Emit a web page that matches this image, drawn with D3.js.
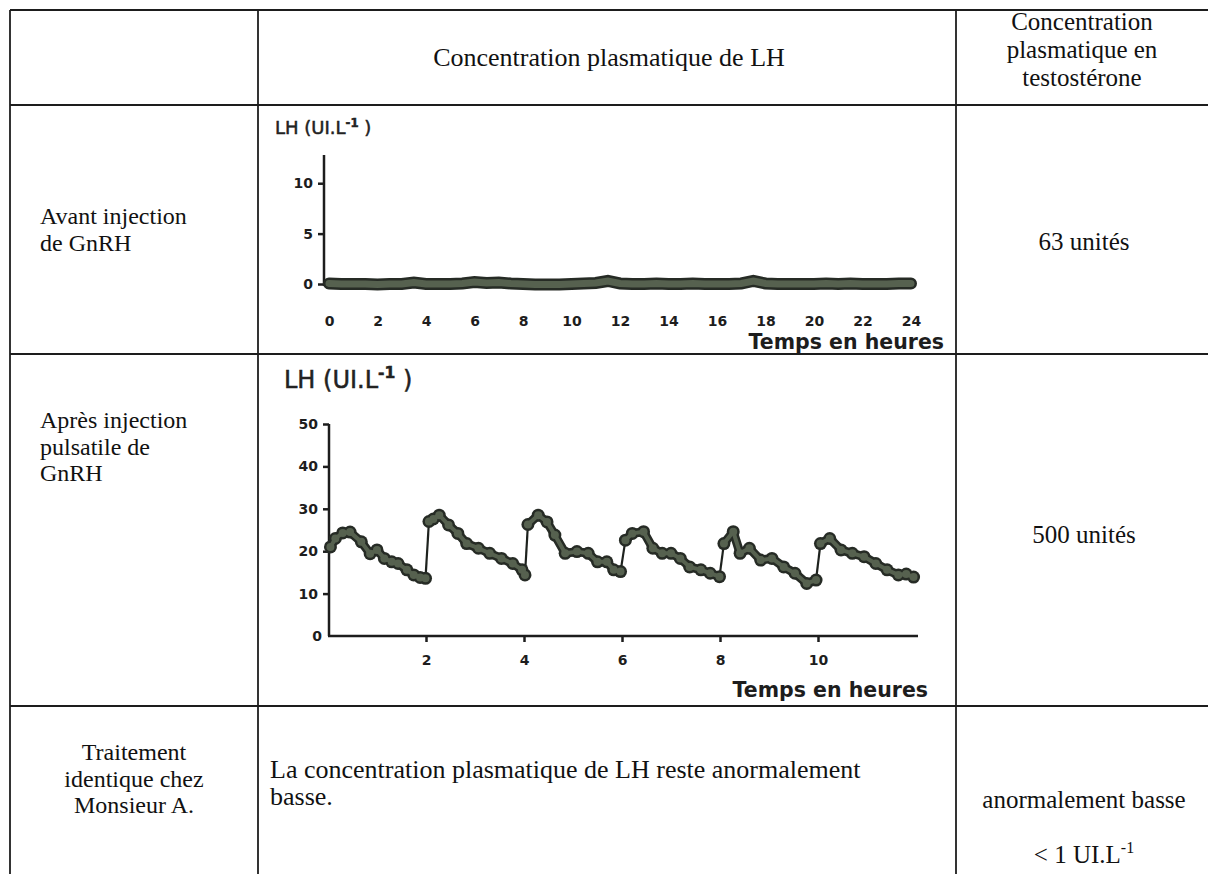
<!DOCTYPE html>
<html>
<head>
<meta charset="utf-8">
<script src="https://cdn.jsdelivr.net/npm/d3@7"></script>
<style>
  body { margin: 0; background: #fff; }
  svg { display: block; }
</style>
</head>
<body>
<div id="chart"></div>
<script>
// ---- data ----

// chart 1 : before injection (LH, UI/L, every half hour over 24 h)
const beforeHours = [0, 0.5, 1, 1.5, 2, 2.5, 3, 3.5, 4, 4.5, 5, 5.5, 6, 6.5, 7, 7.5, 8, 8.5, 9, 9.5, 10, 10.5, 11, 11.5,
  12, 12.5, 13, 13.5, 14, 14.5, 15, 15.5, 16, 16.5, 17, 17.5, 18, 18.5, 19, 19.5, 20, 20.5, 21, 21.5, 22, 22.5, 23, 23.5, 24];
const beforeLH = [0.05, 0, 0, 0, -0.05, 0, 0, 0.15, 0, 0, 0, 0.05, 0.2, 0.1, 0.15, 0.05, 0, -0.05, -0.05, -0.05, 0, 0.05, 0.1, 0.3,
  0.05, 0, 0, 0.05, 0, 0, 0.05, 0, 0, 0, 0.05, 0.3, 0.05, 0, 0, 0, 0, 0.05, 0, 0.05, 0, 0, 0, 0.05, 0.05];
const beforeTicksX = [0, 2, 4, 6, 8, 10, 12, 14, 16, 18, 20, 22, 24];
const beforeTicksY = [0, 5, 10];

// chart 2 : after pulsatile GnRH (LH, UI/L, over 12 h)
const afterHours = [0.05, 0.15, 0.3, 0.45, 0.68, 0.86, 1.0, 1.15, 1.3, 1.43, 1.61, 1.75, 1.88, 1.99,
  2.06, 2.15, 2.27, 2.46, 2.65, 2.83, 3.07, 3.3, 3.54, 3.77, 3.96, 4.02,
  4.08, 4.29, 4.47, 4.63, 4.84, 5.08, 5.31, 5.5, 5.69, 5.83, 5.97,
  6.07, 6.21, 6.44, 6.63, 6.82, 7.0, 7.19, 7.38, 7.61, 7.8, 7.99,
  8.08, 8.27, 8.41, 8.6, 8.83, 9.06, 9.3, 9.53, 9.77, 9.96,
  10.05, 10.24, 10.47, 10.7, 10.94, 11.18, 11.41, 11.64, 11.8, 11.95];
const afterLH = [21.0, 23.0, 24.3, 24.5, 22.2, 19.4, 20.3, 18.3, 17.5, 17.1, 15.6, 14.4, 13.8, 13.6,
  27.0, 27.6, 28.5, 26.2, 24.2, 21.8, 20.7, 19.5, 18.3, 17.1, 15.6, 14.4,
  26.3, 28.5, 26.9, 23.8, 19.5, 19.9, 19.5, 17.5, 17.5, 15.6, 15.2,
  22.6, 24.2, 24.6, 20.7, 19.5, 19.5, 18.3, 16.3, 15.6, 14.8, 14.0,
  21.8, 24.6, 19.5, 20.7, 17.9, 18.3, 16.3, 14.8, 12.4, 13.2,
  21.8, 23.0, 20.3, 19.5, 18.7, 17.1, 15.6, 14.4, 14.6, 13.9];
const afterTicksX = [2, 4, 6, 8, 10];
const afterTicksY = [0, 10, 20, 30, 40, 50];

// table texts
const headerMiddle = "Concentration plasmatique de LH";
const headerRight = ["Concentration", "plasmatique en", "testostérone"];
const rowLabels = [
  ["Avant injection", "de GnRH"],
  ["Après injection", "pulsatile de", "GnRH"],
  ["Traitement", "identique chez", "Monsieur A."]
];
const testoValues = ["63 unités", "500 unités", "anormalement basse"];
const lastRowText = ["La concentration plasmatique de LH reste anormalement", "basse."];

// ---- layout ----
const W = 1208, H = 874;
const colX = [10, 258, 956, 1212];   // vertical lines of the table
const rowY = [10, 105, 354, 706, 878]; // horizontal lines of the table

const serif = "'Liberation Serif', 'Times New Roman', serif";
const wide = "'DejaVu Sans', Verdana, sans-serif";
const ink = "#1d1d1d";
const bandDark = "#262b25", bandFill = "#56614f";

const svg = d3.select("#chart")
  .append("svg")
  .attr("width", W)
  .attr("height", H)
  .style("background", "#fff");

// 1) table grid
svg.append("g")
  .selectAll("line")
  .data(rowY)
  .join("line")
  .attr("x1", colX[0]).attr("x2", colX[3])
  .attr("y1", d => d).attr("y2", d => d)
  .attr("stroke", ink).attr("stroke-width", 2);

svg.append("g")
  .selectAll("line")
  .data(colX)
  .join("line")
  .attr("x1", d => d).attr("x2", d => d)
  .attr("y1", rowY[0]).attr("y2", rowY[4])
  .attr("stroke", ink).attr("stroke-width", 1.8);

// 2) table text
const txt = svg.append("g")
  .attr("font-family", serif)
  .attr("font-size", 25)
  .attr("fill", "#111");

txt.append("text")
  .attr("x", (colX[1] + colX[2]) / 2 + 2)
  .attr("y", 66)
  .attr("text-anchor", "middle")
  .attr("font-size", 26)
  .text(headerMiddle);

headerRight.forEach((t, i) => {
  txt.append("text")
    .attr("x", 1082)
    .attr("y", 30 + i * 28)
    .attr("text-anchor", "middle")
    .text(t);
});

// row labels (first two left aligned, last one centred)
const labelTop = [224, 428, 760];
rowLabels.forEach((lines, r) => {
  lines.forEach((t, i) => {
    txt.append("text")
      .attr("x", r < 2 ? 40 : (colX[0] + colX[1]) / 2)
      .attr("y", labelTop[r] + i * 26.5)
      .attr("text-anchor", r < 2 ? "start" : "middle")
      .attr("font-size", 24)
      .text(t);
  });
});

const testoY = [250, 543, 808];
testoValues.forEach((t, i) => {
  txt.append("text")
    .attr("x", 1084)
    .attr("y", testoY[i])
    .attr("text-anchor", "middle")
    .text(t);
});

const lt = txt.append("text")
  .attr("x", 1084)
  .attr("y", 863)
  .attr("text-anchor", "middle");
lt.append("tspan").text("< 1 UI.L");
lt.append("tspan").attr("dy", -10).attr("font-size", 16).text("-1");

lastRowText.forEach((t, i) => {
  txt.append("text")
    .attr("x", 270)
    .attr("y", 778 + i * 27)
    .attr("font-size", 26)
    .text(t);
});

// small helper for "LH (UI.L-1)" titles
function lhTitle(g, x, y, size) {
  const t = g.append("text")
    .attr("x", x).attr("y", y)
    .attr("font-family", wide)
    .attr("font-size", size)
    .attr("fill", "#222")
    .attr("stroke", "#222")
    .attr("stroke-width", 0.5);
  t.append("tspan").text("LH (UI.L");
  t.append("tspan").attr("dy", -size * 0.4).attr("font-size", size * 0.65).attr("font-weight", "bold").text("-1");
  t.append("tspan").attr("dy", size * 0.4).text(" )");
}

function tickText(a, size) {
  a.selectAll("text")
    .attr("font-family", wide).attr("font-weight", "bold")
    .attr("font-size", size).attr("fill", ink);
}

// ---- chart 1 : before injection ----
const g1 = svg.append("g");
const x1 = d3.scaleLinear().domain([0, 24]).range([329, 911]);
const y1 = d3.scaleLinear().domain([0, 12.8]).range([284, 155]);

lhTitle(g1, 275, 134, 18);

g1.append("line")
  .attr("x1", 324).attr("x2", 324)
  .attr("y1", y1(12.8)).attr("y2", y1(0) + 2)
  .attr("stroke", ink).attr("stroke-width", 2.5);

g1.append("g")
  .attr("transform", "translate(324,0)")
  .call(d3.axisLeft(y1).tickValues(beforeTicksY).tickSize(6).tickSizeOuter(0))
  .call(a => a.select(".domain").remove())
  .call(a => a.selectAll("line").attr("stroke", ink).attr("stroke-width", 2.5))
  .call(a => tickText(a, 14))
  .call(a => a.selectAll("text").attr("dx", -2));

g1.append("g")
  .attr("transform", "translate(0,313)")
  .call(d3.axisBottom(x1).tickValues(beforeTicksX).tickSize(0))
  .call(a => a.select(".domain").remove())
  .call(a => tickText(a, 14));

const line1 = d3.line()
  .x((d, i) => x1(beforeHours[i]))
  .y(d => y1(d));

g1.append("path")
  .datum(beforeLH)
  .attr("fill", "none")
  .attr("stroke", bandDark)
  .attr("stroke-width", 12)
  .attr("stroke-linecap", "round")
  .attr("d", line1);

g1.append("path")
  .datum(beforeLH)
  .attr("fill", "none")
  .attr("stroke", bandFill)
  .attr("stroke-width", 7)
  .attr("stroke-linecap", "round")
  .attr("d", line1);

g1.append("text")
  .attr("x", 944).attr("y", 349)
  .attr("text-anchor", "end")
  .attr("font-family", wide).attr("font-weight", "bold")
  .attr("font-size", 20.5).attr("fill", ink)
  .text("Temps en heures");

// ---- chart 2 : after pulsatile injection ----
const g2 = svg.append("g");
const x2 = d3.scaleLinear().domain([0, 12]).range([328, 916]);
const y2 = d3.scaleLinear().domain([0, 50]).range([636, 424]);

lhTitle(g2, 284, 388, 24);

g2.append("g")
  .attr("transform", "translate(329,0)")
  .call(d3.axisLeft(y2).tickValues(afterTicksY.filter(v => v > 0)).tickSize(6).tickSizeOuter(0))
  .call(a => a.select(".domain").remove())
  .call(a => a.selectAll("line").attr("stroke", ink).attr("stroke-width", 2.5))
  .call(a => tickText(a, 14))
  .call(a => a.selectAll("text").attr("dx", -2));

// the 0 label has no tick in the original
g2.append("text")
  .attr("x", 317).attr("y", y2(0) + 5)
  .attr("text-anchor", "middle")
  .attr("font-family", wide).attr("font-weight", "bold")
  .attr("font-size", 14).attr("fill", ink)
  .text(afterTicksY[0]);

g2.append("line")
  .attr("x1", 329).attr("x2", 329)
  .attr("y1", y2(50)).attr("y2", y2(0))
  .attr("stroke", ink).attr("stroke-width", 2.5);

g2.append("g")
  .attr("transform", `translate(0,${y2(0)})`)
  .call(d3.axisBottom(x2).tickValues(afterTicksX).tickSize(6).tickSizeOuter(0))
  .call(a => a.select(".domain").remove())
  .call(a => a.selectAll("line").attr("stroke", ink).attr("stroke-width", 2.5))
  .call(a => tickText(a, 14))
  .call(a => a.selectAll("text").attr("dy", "1.4em"));

g2.append("line")
  .attr("x1", 328).attr("x2", 918)
  .attr("y1", y2(0)).attr("y2", y2(0))
  .attr("stroke", ink).attr("stroke-width", 2.5);

// consecutive samples: lumpy band where the level drifts, thin stroke at each pulse jump
const pairs = afterLH.slice(1).map((v, i) => ({ a: i, b: i + 1, jump: v - afterLH[i] > 4 }));

g2.selectAll("line.thin")
  .data(pairs.filter(p => p.jump))
  .join("line")
  .attr("class", "thin")
  .attr("x1", p => x2(afterHours[p.a])).attr("y1", p => y2(afterLH[p.a]))
  .attr("x2", p => x2(afterHours[p.b])).attr("y2", p => y2(afterLH[p.b]))
  .attr("stroke", "#1e221e").attr("stroke-width", 2.2);

const band = pairs.filter(p => !p.jump);
[[bandDark, 9, 6.5], [bandFill, 4, 4]].forEach(([c, w, r]) => {
  const layer = g2.append("g");
  layer.selectAll("line")
    .data(band)
    .join("line")
    .attr("x1", p => x2(afterHours[p.a])).attr("y1", p => y2(afterLH[p.a]))
    .attr("x2", p => x2(afterHours[p.b])).attr("y2", p => y2(afterLH[p.b]))
    .attr("stroke", c).attr("stroke-width", w)
    .attr("stroke-linecap", "round");
  layer.selectAll("circle")
    .data(afterLH)
    .join("circle")
    .attr("cx", (d, i) => x2(afterHours[i]))
    .attr("cy", d => y2(d))
    .attr("r", r)
    .attr("fill", c);
});

g2.append("text")
  .attr("x", 928).attr("y", 697)
  .attr("text-anchor", "end")
  .attr("font-family", wide).attr("font-weight", "bold")
  .attr("font-size", 20.5).attr("fill", ink)
  .text("Temps en heures");
</script>
</body>
</html>
